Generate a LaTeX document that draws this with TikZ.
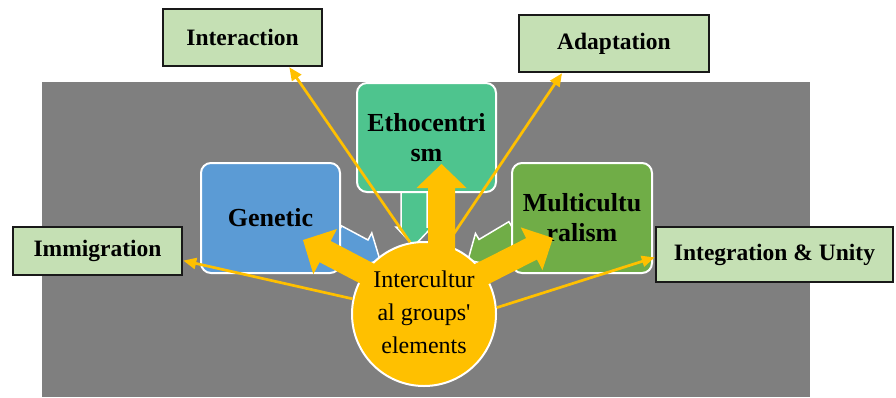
\documentclass[tikz,border=0pt]{standalone}
\usepackage{fontspec}
\setmainfont{Liberation Serif}
\usetikzlibrary{calc,arrows.meta}
\definecolor{bggray}{HTML}{7F7F7F}
\definecolor{sblue}{HTML}{5B9BD5}
\definecolor{steal}{HTML}{4EC48E}
\definecolor{sgreen}{HTML}{70AD47}
\definecolor{syellow}{HTML}{FFC000}
\definecolor{lgreen}{HTML}{C5E0B4}
% #1 tail, #2 tip, #3 shaft half width, #4 head half width, #5 head length, #6 style
\newcommand\blockarr[6]{%
  \path ($(#2)!#5!(#1)$) coordinate (ba-h);
  \path[#6] ($(#1)!#3!90:(#2)$) -- ($(ba-h)!#3!90:(#2)$) -- ($(ba-h)!#4!90:(#2)$)
    -- (#2) -- ($(ba-h)!#4!-90:(#2)$) -- ($(ba-h)!#3!-90:(#2)$) -- ($(#1)!#3!-90:(#2)$) -- cycle;}
\begin{document}
\begin{tikzpicture}[x=1pt,y=-1pt,
  innerbox/.style={rectangle, rounded corners=10pt, draw=white, line width=2pt,
    align=center, inner sep=0pt, font=\fontsize{26}{30}\selectfont\bfseries},
  outerbox/.style={rectangle, draw=black!90, line width=2.5pt, fill=lgreen,
    inner sep=0pt, font=\fontsize{23.5}{27}\selectfont\bfseries},
  thinarr/.style={draw=syellow, line width=2.7pt, -{Triangle[length=13pt,width=11pt]}},
  boxarr/.style={fill=#1, draw=white, line width=1.5pt, line join=miter},
  yarr/.style={fill=syellow}]
\useasboundingbox (0,0) rectangle (896,397);
\fill[bggray] (42,82) rectangle (810,397);

% arrows from the boxes to the centre
\coordinate (bt) at (336,236.5); \coordinate (bh) at (380,260);
\coordinate (tt) at (414,185);   \coordinate (th) at (414,246);
\coordinate (gt) at (515,232);   \coordinate (gh) at (468,260);
\blockarr{bt}{bh}{12pt}{20pt}{20pt}{boxarr=sblue}
\blockarr{tt}{th}{13pt}{18pt}{19pt}{boxarr=steal}
\blockarr{gt}{gh}{12pt}{19pt}{20pt}{boxarr=sgreen}

% inner boxes
\node[innerbox, fill=sblue, minimum width=139pt, minimum height=110pt] (gen) at (270.5,218) {Genetic};
\node[innerbox, fill=steal, minimum width=139pt, minimum height=109pt] (eth) at (426.5,137.5) {Ethocentri\\sm};
\node[innerbox, fill=sgreen, minimum width=140pt, minimum height=110pt] (mul) at (582,218) {Multicultu\\ralism};

% centre circle
\node[circle, fill=syellow, draw=white, line width=2pt, minimum size=144pt, inner sep=0pt] (c) at (424,314) {};

% yellow block arrows from the centre
\coordinate (ut) at (441.5,262); \coordinate (uh) at (441.5,164);
\coordinate (lt) at (387,284);   \coordinate (lh) at (303,240);
\coordinate (rt) at (464,283);   \coordinate (rh) at (553,238);
\blockarr{ut}{uh}{13.5pt}{25pt}{24pt}{yarr}
\blockarr{lt}{lh}{12pt}{25.5pt}{25pt}{yarr}
\blockarr{rt}{rh}{12pt}{24pt}{24pt}{yarr}

\node[align=center, inner sep=0pt, font=\fontsize{24}{33}\selectfont] (ctext) at (424,312)
  {Intercultur\\al groups\textquotesingle\\elements};

% outer boxes
\node[outerbox, minimum width=159pt, minimum height=57pt] (inter) at (242.5,37.5) {Interaction};
\node[outerbox, minimum width=190pt, minimum height=57pt] (adapt) at (614,43.5) {Adaptation};
\node[outerbox, minimum width=169pt, minimum height=48pt] (immi) at (97.5,251) {Immigration};
\node[outerbox, minimum width=237pt, minimum height=55pt] (integ) at (774.5,254.5) {Integration \& Unity};

% thin connectors
\draw[thinarr] (c.101.5) -- ($(inter.south west)!0.79!(inter.south east)$);
\draw[thinarr] (c.72.3) -- ($(adapt.south west)!0.23!(adapt.south east)$);
\draw[thinarr] (c.168.8) -- ($(immi.north east)!0.69!(immi.south east)$);
\draw[thinarr] (c.5.5) -- ($(integ.north west)!0.55!(integ.south west)$);
\end{tikzpicture}
\end{document}
